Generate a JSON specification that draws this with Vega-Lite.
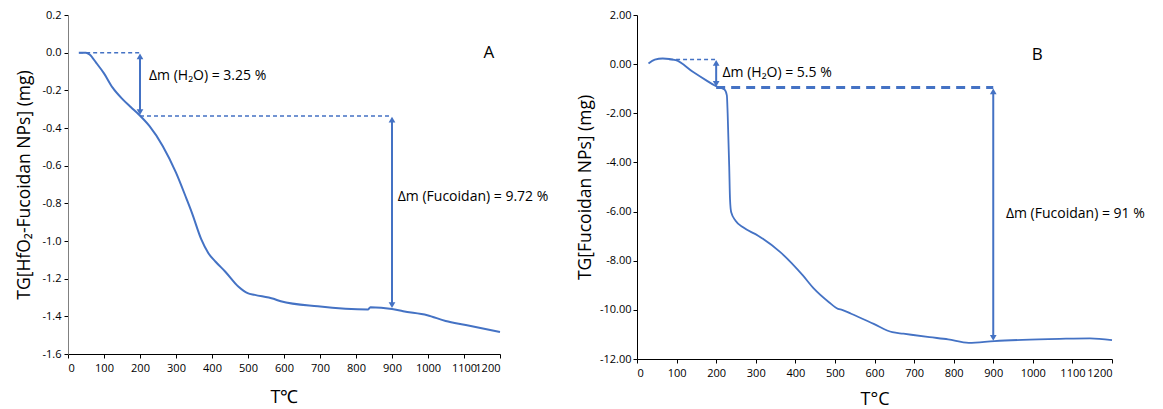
{
  "$schema": "https://vega.github.io/schema/vega-lite/v6.json",
  "padding": {"left": 15, "top": 9, "right": 5, "bottom": 5},
  "background": "white",
  "bounds": "flush",
  "spacing": 137,
  "config": {
    "view": {"stroke": null},
    "font": "Open Sans",
    "axis": {
      "grid": false,
      "labelFont": "Open Sans",
      "labelFontSize": 11,
      "labelColor": "#000000",
      "labelOverlap": false,
      "titleFont": "Open Sans",
      "titleFontSize": 17.5,
      "titleFontWeight": "normal",
      "titleColor": "#000000",
      "domainColor": "#000000",
      "tickColor": "#000000",
      "tickSize": 4
    }
  },
  "hconcat": [
    {
      "width": 432,
      "height": 339,
      "encoding": {
        "x": {
          "field": "T",
          "type": "quantitative",
          "scale": {"domain": [0, 1200], "nice": false, "zero": false},
          "axis": {
            "values": [0, 100, 200, 300, 400, 500, 600, 700, 800, 900, 1000, 1100, 1200],
            "format": "d",
            "title": "T℃",
            "titleFontSize": 18,
            "labelPadding": 4,
            "titlePadding": 15
          }
        },
        "y": {
          "field": "m",
          "type": "quantitative",
          "scale": {"domain": [-1.6, 0.2], "nice": false, "zero": false},
          "axis": {
            "values": [0.2, 0, -0.2, -0.4, -0.6, -0.8, -1.0, -1.2, -1.4, -1.6],
            "labelExpr": "replace(format(datum.value, '.1f'), '\u2212', '-')",
            "title": "TG[HfO₂-Fucoidan NPs] (mg)",
            "domainColor": "#808080",
            "labelPadding": 3,
            "titlePadding": 8
          }
        }
      },
      "layer": [
        {
          "data": {"values": [
            {"T": 30, "m": 0}, {"T": 50, "m": 0}, {"T": 60, "m": -0.01}, {"T": 78, "m": -0.053},
            {"T": 100, "m": -0.11}, {"T": 124, "m": -0.186}, {"T": 152, "m": -0.248}, {"T": 175, "m": -0.29},
            {"T": 196, "m": -0.327}, {"T": 226, "m": -0.389}, {"T": 263, "m": -0.495}, {"T": 300, "m": -0.637},
            {"T": 329, "m": -0.775}, {"T": 344, "m": -0.849}, {"T": 370, "m": -0.99}, {"T": 390, "m": -1.065}, {"T": 410, "m": -1.11},
            {"T": 437, "m": -1.163}, {"T": 473, "m": -1.242}, {"T": 499, "m": -1.277}, {"T": 519, "m": -1.286},
            {"T": 571, "m": -1.307}, {"T": 591, "m": -1.32}, {"T": 694, "m": -1.347}, {"T": 833, "m": -1.364},
            {"T": 840, "m": -1.352}, {"T": 900, "m": -1.361}, {"T": 931, "m": -1.373}, {"T": 998, "m": -1.394},
            {"T": 1049, "m": -1.425}, {"T": 1105, "m": -1.446}, {"T": 1200, "m": -1.483}
          ]},
          "mark": {"type": "line", "color": "#4472C4", "strokeWidth": 2, "interpolate": "monotone"}
        },
        {
          "data": {"values": [
            {"T": 31, "T2": 200, "m": 0, "m2": 0},
            {"T": 200, "T2": 900, "m": -0.336, "m2": -0.336}
          ]},
          "mark": {"type": "rule", "color": "#4472C4", "strokeWidth": 1.5, "strokeDash": [4, 3]},
          "encoding": {"x2": {"field": "T2"}, "y2": {"field": "m2"}}
        },
        {
          "data": {"values": [
            {"T": 200, "T2": 200, "m": -0.02, "m2": -0.316},
            {"T": 900, "T2": 900, "m": -0.356, "m2": -1.34}
          ]},
          "mark": {"type": "rule", "color": "#4472C4", "strokeWidth": 2},
          "encoding": {"x2": {"field": "T2"}, "y2": {"field": "m2"}}
        },
        {
          "data": {"values": [
            {"T": 200, "m": -0.02, "shape": "triangle-up"},
            {"T": 200, "m": -0.316, "shape": "triangle-down"},
            {"T": 900, "m": -0.356, "shape": "triangle-up"},
            {"T": 900, "m": -1.34, "shape": "triangle-down"}
          ]},
          "mark": {"type": "point", "filled": true, "color": "#4472C4", "size": 45, "opacity": 1},
          "encoding": {"shape": {"field": "shape", "type": "nominal", "scale": null}}
        },
        {
          "data": {"values": [
            {"T": 225, "m": -0.126, "label": "Δm (H₂O) = 3.25 %"},
            {"T": 916, "m": -0.768, "label": "Δm (Fucoidan) = 9.72 %"}
          ]},
          "mark": {"type": "text", "align": "left", "baseline": "middle", "fontSize": 14, "font": "Open Sans", "color": "#000000"},
          "encoding": {"text": {"field": "label"}}
        },
        {
          "data": {"values": [{"T": 1169, "m": 0, "label": "A"}]},
          "mark": {"type": "text", "align": "center", "baseline": "middle", "fontSize": 17, "font": "Open Sans", "color": "#000000"},
          "encoding": {"text": {"field": "label"}}
        }
      ]
    },
    {
      "width": 475,
      "height": 344,
      "encoding": {
        "x": {
          "field": "T",
          "type": "quantitative",
          "scale": {"domain": [0, 1200], "nice": false, "zero": false},
          "axis": {
            "values": [0, 100, 200, 300, 400, 500, 600, 700, 800, 900, 1000, 1100, 1200],
            "format": "d",
            "title": "T°C",
            "titleFontSize": 18,
            "labelPadding": 4,
            "titlePadding": 12
          }
        },
        "y": {
          "field": "m",
          "type": "quantitative",
          "scale": {"domain": [-12, 2], "nice": false, "zero": false},
          "axis": {
            "values": [2, 0, -2, -4, -6, -8, -10, -12],
            "labelExpr": "replace(format(datum.value, '.2f'), '\u2212', '-')",
            "title": "TG[Fucoidan NPs] (mg)",
            "labelPadding": 2,
            "titlePadding": 5
          }
        }
      },
      "layer": [
        {
          "data": {"values": [
            {"T": 29, "m": 0.03}, {"T": 45, "m": 0.18}, {"T": 65, "m": 0.23}, {"T": 98, "m": 0.16},
            {"T": 141, "m": -0.31}, {"T": 174, "m": -0.65}, {"T": 200, "m": -0.9}, {"T": 221, "m": -1.03},
            {"T": 227, "m": -1.27}, {"T": 229, "m": -2.0}, {"T": 233, "m": -4.2}, {"T": 235, "m": -5.5},
            {"T": 238, "m": -6.03}, {"T": 249, "m": -6.37}, {"T": 268, "m": -6.64}, {"T": 306, "m": -6.98},
            {"T": 362, "m": -7.65}, {"T": 419, "m": -8.6}, {"T": 447, "m": -9.14}, {"T": 485, "m": -9.69},
            {"T": 508, "m": -9.96}, {"T": 518, "m": -10.0}, {"T": 541, "m": -10.16}, {"T": 598, "m": -10.57},
            {"T": 645, "m": -10.91}, {"T": 673, "m": -10.97}, {"T": 739, "m": -11.11}, {"T": 786, "m": -11.2},
            {"T": 838, "m": -11.34}, {"T": 903, "m": -11.27}, {"T": 974, "m": -11.22}, {"T": 1068, "m": -11.18},
            {"T": 1144, "m": -11.16}, {"T": 1200, "m": -11.23}
          ]},
          "mark": {"type": "line", "color": "#4472C4", "strokeWidth": 1.8, "interpolate": "monotone"}
        },
        {
          "data": {"values": [{"T": 81, "T2": 200, "m": 0.19, "m2": 0.19}]},
          "mark": {"type": "rule", "color": "#4472C4", "strokeWidth": 1.5, "strokeDash": [4, 3]},
          "encoding": {"x2": {"field": "T2"}, "y2": {"field": "m2"}}
        },
        {
          "data": {"values": [{"T": 200, "T2": 900, "m": -0.95, "m2": -0.95}]},
          "mark": {"type": "rule", "color": "#4472C4", "strokeWidth": 3, "strokeDash": [9, 6]},
          "encoding": {"x2": {"field": "T2"}, "y2": {"field": "m2"}}
        },
        {
          "data": {"values": [
            {"T": 200, "T2": 200, "m": 0.05, "m2": -0.8},
            {"T": 900, "T2": 900, "m": -1.1, "m2": -11.15}
          ]},
          "mark": {"type": "rule", "color": "#4472C4", "strokeWidth": 2},
          "encoding": {"x2": {"field": "T2"}, "y2": {"field": "m2"}}
        },
        {
          "data": {"values": [
            {"T": 200, "m": 0.05, "shape": "triangle-up"},
            {"T": 200, "m": -0.8, "shape": "triangle-down"},
            {"T": 900, "m": -1.11, "shape": "triangle-up"},
            {"T": 900, "m": -11.14, "shape": "triangle-down"}
          ]},
          "mark": {"type": "point", "filled": true, "color": "#4472C4", "size": 45, "opacity": 1},
          "encoding": {"shape": {"field": "shape", "type": "nominal", "scale": null}}
        },
        {
          "data": {"values": [
            {"T": 216, "m": -0.36, "label": "Δm (H₂O) = 5.5 %"},
            {"T": 932, "m": -6.09, "label": "Δm (Fucoidan) = 91 %"}
          ]},
          "mark": {"type": "text", "align": "left", "baseline": "middle", "fontSize": 14, "font": "Open Sans", "color": "#000000"},
          "encoding": {"text": {"field": "label"}}
        },
        {
          "data": {"values": [{"T": 1011, "m": 0.37, "label": "B"}]},
          "mark": {"type": "text", "align": "center", "baseline": "middle", "fontSize": 17, "font": "Open Sans", "color": "#000000"},
          "encoding": {"text": {"field": "label"}}
        }
      ]
    }
  ]
}
